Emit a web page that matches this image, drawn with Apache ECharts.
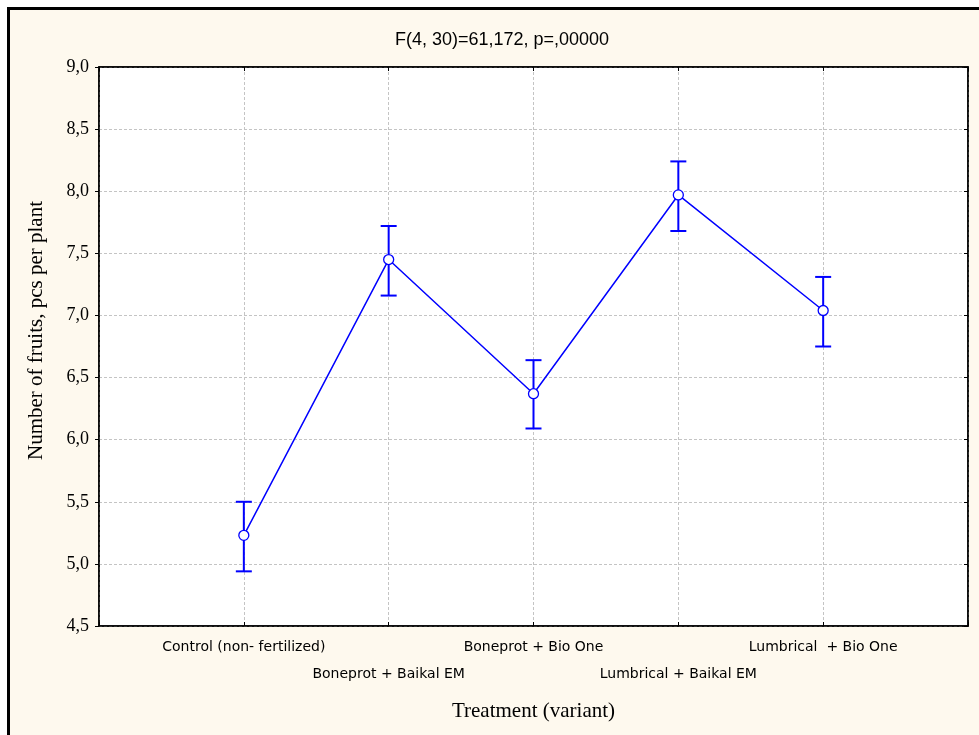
<!DOCTYPE html>
<html>
<head>
<meta charset="utf-8">
<script src="https://cdn.jsdelivr.net/npm/echarts@6/dist/echarts.min.js"></script>
<style>
  html, body { margin: 0; padding: 0; background: #fff; }
  #chart { width: 979px; height: 735px; }
</style>
</head>
<body>
<div id="chart"></div>
<script>
// treatments, in plotting order (x = 1..5)
var categories = ['Control (non- fertilized)', 'Boneprot + Baikal EM', 'Boneprot + Bio One', 'Lumbrical + Baikal EM', 'Lumbrical  + Bio One'];
var means = [5.23, 7.45, 6.37, 7.97, 7.04];
var lower = [4.94, 7.16, 6.09, 7.68, 6.75];
var upper = [5.50, 7.72, 6.64, 8.24, 7.31];
var yTicks = [4.5, 5.0, 5.5, 6.0, 6.5, 7.0, 7.5, 8.0, 8.5, 9.0];

(function () {
  var myChart = echarts.init(document.getElementById('chart'));

  var pointData = means.map(function (v, i) { return [i + 1, v]; });
  var errData = means.map(function (v, i) { return [i + 1, lower[i], upper[i]]; });

  var blue = '#0000ff';

  var option = {
    animation: false,
    backgroundColor: '#ffffff',
    graphic: [
      {
        type: 'rect',
        z: -10,
        shape: { x: 8.5, y: 8.5, width: 1000, height: 800 },
        style: { fill: '#fef9ee', stroke: '#000', lineWidth: 3 }
      }
    ],
    title: {
      text: 'F(4, 30)=61,172, p=,00000',
      left: 497,
      top: 26,
      textAlign: 'center',
      textStyle: { fontFamily: 'Liberation Sans', fontSize: 18, fontWeight: 'normal', color: '#000' }
    },
    grid: {
      left: 99, top: 67, right: 11, bottom: 109,
      show: true,
      backgroundColor: '#ffffff',
      borderColor: '#000',
      borderWidth: 1.5
    },
    xAxis: [
      {
        type: 'value',
        min: 0, max: 6, interval: 1,
        name: 'Treatment (variant)',
        nameLocation: 'middle',
        nameGap: 75,
        nameTextStyle: { fontFamily: 'Liberation Serif', fontSize: 21, color: '#000' },
        axisLine: { show: true, onZero: false, lineStyle: { color: '#000', width: 1.5 } },
        axisTick: { show: true, inside: true, length: 4, lineStyle: { color: '#000' } },
        axisLabel: {
          margin: 8,
          lineHeight: 27,
          fontFamily: 'DejaVu Sans',
          fontSize: 14,
          color: '#000',
          formatter: function (v) {
            var i = Math.round(v) - 1;
            if (i < 0 || i >= categories.length) return '';
            return (i % 2 === 1 ? '\n' : '') + categories[i];
          }
        },
        splitLine: {
          show: true,
          lineStyle: { color: '#c4c4c4', type: [3, 2], width: 1 }
        }
      },
      {
        type: 'value', position: 'top',
        min: 0, max: 6, interval: 1,
        axisLine: { show: true, onZero: false, lineStyle: { color: '#000', width: 1.5 } },
        axisTick: { show: true, inside: true, length: 4, lineStyle: { color: '#000' } },
        axisLabel: { show: false },
        splitLine: { show: false }
      }
    ],
    yAxis: [
      {
        type: 'value',
        min: 4.5, max: 9.0, interval: 0.5,
        name: 'Number of fruits, pcs per plant',
        nameLocation: 'middle',
        nameGap: 52,
        nameTextStyle: { fontFamily: 'Liberation Serif', fontSize: 21, color: '#000', padding: [0, 0, 0, 32] },
        axisLine: { show: true, onZero: false, lineStyle: { color: '#000', width: 1.5 } },
        axisTick: { show: true, inside: false, length: 4, lineStyle: { color: '#000' } },
        axisLabel: {
          margin: 10,
          fontFamily: 'Liberation Serif',
          fontSize: 18,
          color: '#000',
          formatter: function (v) {
            var t = yTicks.filter(function (x) { return Math.abs(x - v) < 1e-6; });
            return t.length ? t[0].toFixed(1).replace('.', ',') : '';
          }
        },
        splitLine: {
          show: true,
          lineStyle: { color: '#c4c4c4', type: [3, 2], width: 1 }
        }
      },
      {
        type: 'value', position: 'right',
        min: 4.5, max: 9.0, interval: 0.5,
        axisLine: { show: true, onZero: false, lineStyle: { color: '#000', width: 1.5 } },
        axisTick: { show: true, inside: true, length: 4, lineStyle: { color: '#000' } },
        axisLabel: { show: false },
        splitLine: { show: false }
      }
    ],
    series: [
      {
        name: 'error',
        type: 'custom',
        xAxisIndex: 0,
        yAxisIndex: 0,
        data: errData,
        z: 2,
        renderItem: function (params, api) {
          var x = api.value(0);
          var lo = api.coord([x, api.value(1)]);
          var hi = api.coord([x, api.value(2)]);
          var w = 8;
          var st = { stroke: blue, lineWidth: 2 };
          return {
            type: 'group',
            children: [
              { type: 'line', shape: { x1: lo[0], y1: lo[1], x2: hi[0], y2: hi[1] }, style: st },
              { type: 'line', shape: { x1: lo[0] - w, y1: lo[1], x2: lo[0] + w, y2: lo[1] }, style: st },
              { type: 'line', shape: { x1: hi[0] - w, y1: hi[1], x2: hi[0] + w, y2: hi[1] }, style: st }
            ]
          };
        }
      },
      {
        name: 'mean',
        type: 'line',
        xAxisIndex: 0,
        yAxisIndex: 0,
        data: pointData,
        z: 3,
        symbol: 'circle',
        symbolSize: 10,
        lineStyle: { color: blue, width: 1.5 },
        itemStyle: { color: '#ffffff', borderColor: blue, borderWidth: 1.3 }
      }
    ]
  };

  myChart.setOption(option);
})();
</script>
</body>
</html>
